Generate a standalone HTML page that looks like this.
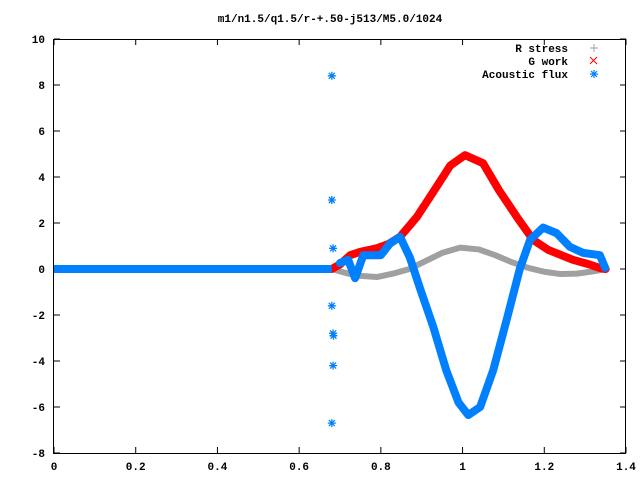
<!DOCTYPE html>
<html><head><meta charset="utf-8">
<style>
body{margin:0;background:#fff;}
svg text{font-family:"Liberation Mono",monospace;font-size:11px;font-weight:bold;fill:#000;}
</style></head>
<body>
<svg id="chart" width="640" height="480" xmlns="http://www.w3.org/2000/svg">
<rect width="640" height="480" fill="#fff"/>
<text x="330" y="22" text-anchor="middle">m1/n1.5/q1.5/r-+.50-j513/M5.0/1024</text>
<g id="axes"></g>
<g id="series"></g>
<rect x="53.5" y="39.5" width="572" height="414" fill="none" stroke="#000" stroke-width="1"/>
<g>
<text x="568" y="52" text-anchor="end">R stress</text>
<text x="568" y="65" text-anchor="end">G work</text>
<text x="568" y="78" text-anchor="end">Acoustic flux</text>
<path d="M590,48h8M594,44v8" stroke="#a0a0a0" stroke-width="1"/>
<path d="M590,57l7,7M597,57l-7,7" stroke="#ff0000" stroke-width="1"/>
<path d="M590,74h8M594,70v8M591,71l6,6M597,71l-6,6" stroke="#0080ff" stroke-width="1.2"/>
</g>
</svg>
<script>
const xTicks=[0,0.2,0.4,0.6,0.8,1,1.2,1.4];
const xTickLabels=["0","0.2","0.4","0.6","0.8","1","1.2","1.4"];
const yTicks=[-8,-6,-4,-2,0,2,4,6,8,10];
const yTickLabels=["-8","-6","-4","-2","0","2","4","6","8","10"];
const rStressX=[0.68,0.72,0.75,0.79,0.83,0.87,0.91,0.95,0.994,1.04,1.08,1.12,1.16,1.2,1.24,1.28,1.32,1.353];
const rStressY=[0,-0.2,-0.3,-0.35,-0.2,0,0.35,0.7,0.93,0.85,0.6,0.3,0.05,-0.12,-0.22,-0.2,-0.1,0];
const gWorkX=[0.68,0.7,0.725,0.75,0.79,0.82,0.847,0.888,0.93,0.97,1.006,1.05,1.09,1.133,1.173,1.21,1.27,1.31,1.336,1.35];
const gWorkY=[0,0.2,0.6,0.75,0.9,1.1,1.4,2.26,3.4,4.5,4.95,4.6,3.4,2.26,1.26,0.83,0.4,0.2,0.04,0];
const fluxX=[0.7,0.72,0.737,0.757,0.78,0.8,0.822,0.847,0.871,0.895,0.928,0.96,0.99,1.014,1.043,1.075,1.108,1.14,1.165,1.197,1.23,1.263,1.295,1.336,1.349];
const fluxY=[0.26,0.4,-0.4,0.6,0.6,0.6,1.1,1.4,0.5,-0.8,-2.5,-4.4,-5.8,-6.35,-6.0,-4.4,-2.2,0,1.26,1.8,1.56,0.96,0.7,0.6,0.05];
const fluxOutlierX=[0.68,0.68,0.683,0.68,0.683,0.684,0.683,0.68];
const fluxOutlierY=[8.4,3.0,0.9,-1.6,-2.8,-2.9,-4.2,-6.7];
const fluxFlatStart=0, fluxFlatEnd=0.68, fluxFlatValue=0;

const NS="http://www.w3.org/2000/svg";
const X0=54,X1=626,Y0=453,Y1=39,xMin=0,xMax=1.4,yMin=-8,yMax=10;
function sx(v){return X0+(v-xMin)/(xMax-xMin)*(X1-X0);}
function sy(v){return Y0-(v-yMin)/(yMax-yMin)*(Y0-Y1);}
function mk(tag,attrs,parent){const e=document.createElementNS(NS,tag);for(const k in attrs)e.setAttribute(k,attrs[k]);parent.appendChild(e);return e;}
const axes=document.getElementById('axes'),series=document.getElementById('series');
xTicks.forEach((t,i)=>{
  const x=sx(t);
  const tk=mk('path',{d:`M${x},${Y0}v-6M${x},${Y1}v6`,stroke:'#000','stroke-width':1},axes);
  
  
  const lb=mk('text',{x:x,y:470,'text-anchor':'middle'},axes);lb.textContent=xTickLabels[i];
  
  
});
yTicks.forEach((t,i)=>{
  const y=sy(t);
  const tk=mk('path',{d:`M${X0},${y}h6M${X1},${y}h-6`,stroke:'#000','stroke-width':1},axes);
  
  
  const lb=mk('text',{x:45,y:y+4,'text-anchor':'end'},axes);lb.textContent=yTickLabels[i];
  
  
});
function band(xs,ys,color,w,name){
  const d=xs.map((x,i)=>(i?'L':'M')+sx(x)+','+sy(ys[i])).join('');
  const p=mk('path',{d:d,fill:'none',stroke:color,'stroke-width':w,'stroke-linejoin':'round','stroke-linecap':'round'},series);
  
  
}
function star(x,y,color){
  const X=sx(x),Y=sy(y);
  const p=mk('path',{d:`M${X-4},${Y}h8M${X},${Y-4}v8M${X-3},${Y-3}l6,6M${X+3},${Y-3}l-6,6`,stroke:color,'stroke-width':1.3},series);
  
  
}
band(rStressX,rStressY,'#a0a0a0',6,'r-stress-series');
band(gWorkX,gWorkY,'#ff0000',8,'g-work-series');
const fl=mk('path',{d:`M${sx(fluxFlatStart)},${sy(fluxFlatValue)}H${sx(fluxFlatEnd)}`,stroke:'#0080ff','stroke-width':8},series);


band(fluxX,fluxY,'#0080ff',8,'acoustic-flux-series');
fluxOutlierX.forEach((x,i)=>star(x,fluxOutlierY[i],'#0080ff'));
</script>
</body></html>
